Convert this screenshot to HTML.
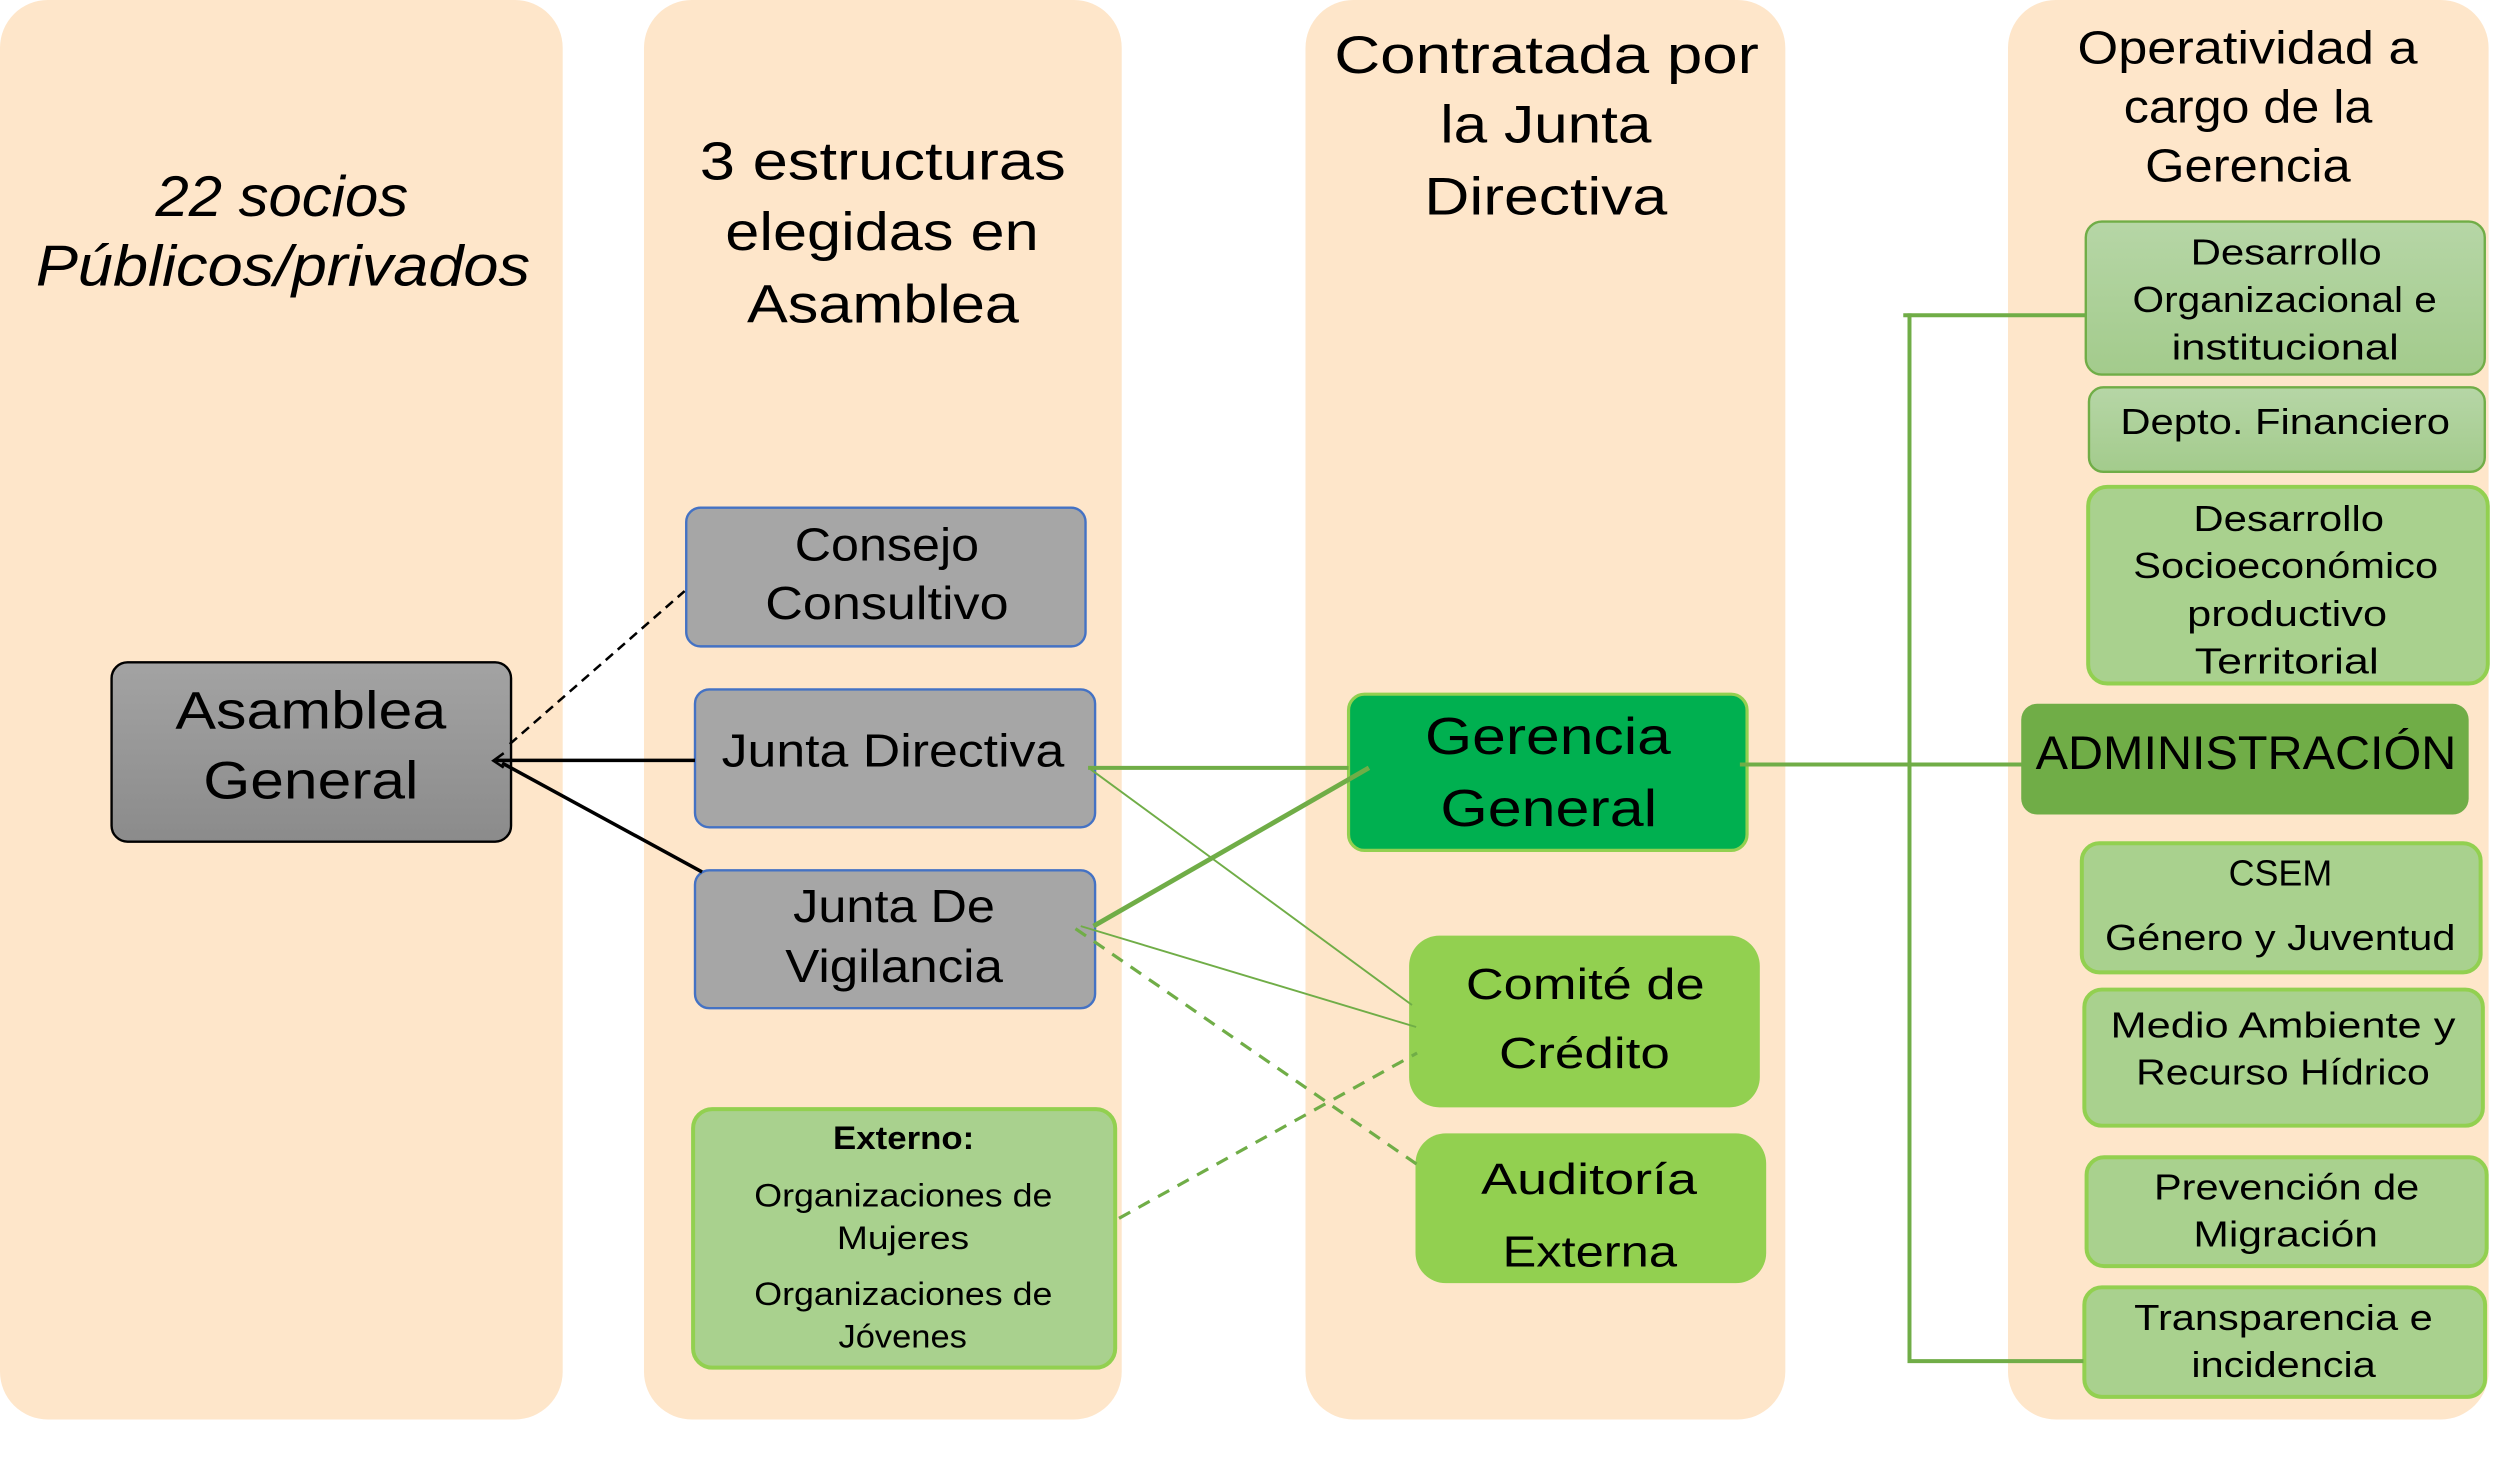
<!DOCTYPE html>
<html>
<head>
<meta charset="utf-8">
<style>
  html,body{margin:0;padding:0;background:#ffffff;}
  svg{display:block;}
  text{font-family:"Liberation Sans", Arial, sans-serif; fill:#000;}
</style>
</head>
<body>
<svg width="2498" height="1468" viewBox="0 0 1567.1 920.95" preserveAspectRatio="none" xmlns="http://www.w3.org/2000/svg">
  <defs>
    <linearGradient id="gAsam" x1="0" y1="0" x2="0" y2="1">
      <stop offset="0" stop-color="#a3a3a3"/>
      <stop offset="1" stop-color="#8b8b8b"/>
    </linearGradient>
    <linearGradient id="gLight" x1="0" y1="0" x2="0" y2="1">
      <stop offset="0" stop-color="#b6d6a6"/>
      <stop offset="1" stop-color="#a3cb8c"/>
    </linearGradient>
  </defs>

  <!-- Columns -->
  <rect x="0" y="0" width="353" height="890.5" rx="30" fill="#fee6ca"/>
  <rect x="404" y="0" width="299.7" height="890.5" rx="30" fill="#fee6ca"/>
  <rect x="819" y="0" width="301" height="890.5" rx="30" fill="#fee6ca"/>
  <rect x="1259.7" y="0" width="301.5" height="890.5" rx="30" fill="#fee6ca"/>

  <!-- Column headers -->
  <g font-style="italic" font-size="36" text-anchor="middle">
    <text x="176.8" y="135.6" textLength="158.5" lengthAdjust="spacingAndGlyphs">22 socios</text>
    <text x="177.5" y="179.1" textLength="310" lengthAdjust="spacingAndGlyphs">Públicos/privados</text>
  </g>
  <g font-size="34" text-anchor="middle">
    <text x="553.8" y="112.5" textLength="229.6" lengthAdjust="spacingAndGlyphs">3 estructuras</text>
    <text x="553.3" y="156.9" textLength="196.6" lengthAdjust="spacingAndGlyphs">elegidas en</text>
    <text x="553.9" y="202.2" textLength="170.6" lengthAdjust="spacingAndGlyphs">Asamblea</text>
  </g>
  <g font-size="33" text-anchor="middle">
    <text x="970.2" y="45.9" textLength="266.4" lengthAdjust="spacingAndGlyphs">Contratada por</text>
    <text x="969.8" y="89.4" textLength="132.5" lengthAdjust="spacingAndGlyphs">la Junta</text>
    <text x="969.7" y="134.7" textLength="152.4" lengthAdjust="spacingAndGlyphs">Directiva</text>
  </g>
  <g font-size="29" text-anchor="middle">
    <text x="1410" y="40" textLength="213.3" lengthAdjust="spacingAndGlyphs">Operatividad a</text>
    <text x="1410.3" y="77" textLength="155.9" lengthAdjust="spacingAndGlyphs">cargo de la</text>
    <text x="1410.2" y="114" textLength="128.9" lengthAdjust="spacingAndGlyphs">Gerencia</text>
  </g>

  <!-- Left nodes -->
  <rect x="70" y="415.5" width="250.6" height="112.5" rx="10" fill="url(#gAsam)" stroke="#000" stroke-width="1.5"/>
  <g font-size="33" text-anchor="middle">
    <text x="195" y="457" textLength="170" lengthAdjust="spacingAndGlyphs">Asamblea</text>
    <text x="195" y="500.8" textLength="135" lengthAdjust="spacingAndGlyphs">General</text>
  </g>

  <rect x="430.5" y="318.5" width="250.5" height="87" rx="9" fill="#a6a6a6" stroke="#4472c4" stroke-width="1.5"/>
  <rect x="436" y="432.5" width="251" height="86.5" rx="9" fill="#a6a6a6" stroke="#4472c4" stroke-width="1.5"/>
  <rect x="436" y="546" width="251" height="86.5" rx="9" fill="#a6a6a6" stroke="#4472c4" stroke-width="1.5"/>
  <g font-size="29" text-anchor="middle">
    <text x="556.4" y="351.7" textLength="115.6" lengthAdjust="spacingAndGlyphs">Consejo</text>
    <text x="556.4" y="388.4" textLength="152.7" lengthAdjust="spacingAndGlyphs">Consultivo</text>
    <text x="560.2" y="481" textLength="215" lengthAdjust="spacingAndGlyphs">Junta Directiva</text>
    <text x="560.9" y="578.4" textLength="126.6" lengthAdjust="spacingAndGlyphs">Junta De</text>
    <text x="560.9" y="616" textLength="136.6" lengthAdjust="spacingAndGlyphs">Vigilancia</text>
  </g>

  <rect x="434.8" y="695.8" width="264.8" height="162.2" rx="12" fill="#a9d18e" stroke="#92d050" stroke-width="2.5"/>
  <g text-anchor="middle">
    <text x="566.9" y="720.8" font-size="20.5" font-weight="bold" textLength="88.6" lengthAdjust="spacingAndGlyphs">Externo:</text>
    <text x="566.7" y="756.8" font-size="20.5" textLength="187" lengthAdjust="spacingAndGlyphs">Organizaciones de</text>
    <text x="566.5" y="783.6" font-size="20.5" textLength="83" lengthAdjust="spacingAndGlyphs">Mujeres</text>
    <text x="566.7" y="818.8" font-size="20.5" textLength="187" lengthAdjust="spacingAndGlyphs">Organizaciones de</text>
    <text x="566.3" y="845.4" font-size="20.5" textLength="80.6" lengthAdjust="spacingAndGlyphs">Jóvenes</text>
  </g>

  <!-- Middle nodes -->
  <rect x="846" y="435.5" width="250" height="98" rx="10" fill="#00b050" stroke="#92d050" stroke-width="2"/>
  <g font-size="32.5" text-anchor="middle">
    <text x="971.1" y="473.1" textLength="154.2" lengthAdjust="spacingAndGlyphs">Gerencia</text>
    <text x="971.6" y="518.2" textLength="136" lengthAdjust="spacingAndGlyphs">General</text>
  </g>

  <rect x="884" y="587" width="220" height="107.7" rx="19" fill="#92d050"/>
  <rect x="888" y="711" width="220" height="94" rx="19" fill="#92d050"/>
  <g font-size="27.5" text-anchor="middle">
    <text x="994.5" y="626.7" textLength="149.8" lengthAdjust="spacingAndGlyphs">Comité de</text>
    <text x="994" y="670" textLength="107.2" lengthAdjust="spacingAndGlyphs">Crédito</text>
    <text x="996.9" y="749.2" textLength="135.4" lengthAdjust="spacingAndGlyphs">Auditoría</text>
    <text x="997.3" y="794.5" textLength="109.5" lengthAdjust="spacingAndGlyphs">Externa</text>
  </g>

  <!-- Right nodes -->
  <rect x="1268" y="441.5" width="280.7" height="69.5" rx="10" fill="#70ad47"/>
  <text x="1409" y="482.3" font-size="29.8" text-anchor="middle" textLength="263.9" lengthAdjust="spacingAndGlyphs">ADMINISTRACIÓN</text>

  <rect x="1308.5" y="139" width="250.3" height="96" rx="10" fill="url(#gLight)" stroke="#70ad47" stroke-width="1.5"/>
  <rect x="1310.5" y="243" width="248.3" height="53" rx="9" fill="url(#gLight)" stroke="#70ad47" stroke-width="1.5"/>
  <rect x="1310" y="305.4" width="250.7" height="123.4" rx="12" fill="#a9d18e" stroke="#92d050" stroke-width="2.5"/>
  <rect x="1306" y="529" width="250.2" height="81" rx="11" fill="#a9d18e" stroke="#92d050" stroke-width="2.5"/>
  <rect x="1307.6" y="620.8" width="250" height="85.4" rx="11" fill="#a9d18e" stroke="#92d050" stroke-width="2.5"/>
  <rect x="1309" y="726" width="251" height="68.3" rx="11" fill="#a9d18e" stroke="#92d050" stroke-width="2.5"/>
  <rect x="1307.6" y="807.6" width="251.4" height="68.7" rx="11" fill="#a9d18e" stroke="#92d050" stroke-width="2.5"/>

  <g font-size="22.4" text-anchor="middle">
    <text x="1434.2" y="165.8" textLength="119.9" lengthAdjust="spacingAndGlyphs">Desarrollo</text>
    <text x="1433.3" y="195.7" textLength="190.9" lengthAdjust="spacingAndGlyphs">Organizacional e</text>
    <text x="1433.6" y="225.6" textLength="142.5" lengthAdjust="spacingAndGlyphs">institucional</text>

    <text x="1433.6" y="272.4" textLength="206.8" lengthAdjust="spacingAndGlyphs">Depto. Financiero</text>

    <text x="1435.8" y="333" textLength="119.6" lengthAdjust="spacingAndGlyphs">Desarrollo</text>
    <text x="1433.9" y="362.6" textLength="191.2" lengthAdjust="spacingAndGlyphs">Socioeconómico</text>
    <text x="1434.8" y="392.6" textLength="125.4" lengthAdjust="spacingAndGlyphs">productivo</text>
    <text x="1434.6" y="422.5" textLength="115.5" lengthAdjust="spacingAndGlyphs">Territorial</text>

    <text x="1430.6" y="555.6" textLength="65" lengthAdjust="spacingAndGlyphs">CSEM</text>
    <text x="1430.5" y="595.9" textLength="219.8" lengthAdjust="spacingAndGlyphs">Género y Juventud</text>

    <text x="1432.2" y="651" textLength="216.4" lengthAdjust="spacingAndGlyphs">Medio Ambiente y</text>
    <text x="1432.2" y="680.4" textLength="184.2" lengthAdjust="spacingAndGlyphs">Recurso Hídrico</text>

    <text x="1434.5" y="752.4" textLength="166.4" lengthAdjust="spacingAndGlyphs">Prevención de</text>
    <text x="1433.9" y="781.9" textLength="115.8" lengthAdjust="spacingAndGlyphs">Migración</text>

    <text x="1432.5" y="834.4" textLength="187.3" lengthAdjust="spacingAndGlyphs">Transparencia e</text>
    <text x="1432.6" y="863.8" textLength="115.7" lengthAdjust="spacingAndGlyphs">incidencia</text>
  </g>

  <!-- Connectors (drawn on top of nodes, as in the reference) -->
  <g stroke="#70ad47" fill="none" stroke-linecap="butt">
    <line x1="682.6" y1="481.7" x2="846" y2="481.7" stroke-width="2.5"/>
    <line x1="684.3" y1="482.7" x2="885.8" y2="630.5" stroke-width="1.2"/>
    <line x1="686" y1="581" x2="858.8" y2="481.7" stroke-width="3"/>
    <line x1="678" y1="581" x2="888.4" y2="644.3" stroke-width="1.2"/>
    <line x1="674.7" y1="582.6" x2="891" y2="731.9" stroke-width="2" stroke-dasharray="8 6"/>
    <line x1="702" y1="764.3" x2="889" y2="660.6" stroke-width="2" stroke-dasharray="8 6"/>
    <line x1="1091.5" y1="479.6" x2="1269" y2="479.6" stroke-width="2.5"/>
    <polyline points="1309,197.8 1194,197.8" stroke-width="2.5"/>
    <polyline points="1197.9,196.6 1197.9,853.9 1307,853.9" stroke-width="2.5"/>
  </g>
  <g stroke="#000" fill="none">
    <line x1="319.8" y1="466.8" x2="429.5" y2="370.8" stroke-width="1.6" stroke-dasharray="6 4"/>
    <line x1="311" y1="477" x2="436" y2="477" stroke-width="2.2"/>
    <line x1="315" y1="478.7" x2="440.4" y2="547" stroke-width="2.2"/>
    <polyline points="316,472.5 309.5,477.2 316,481.5" stroke-width="1.6"/>
  </g>
</svg>
</body>
</html>
